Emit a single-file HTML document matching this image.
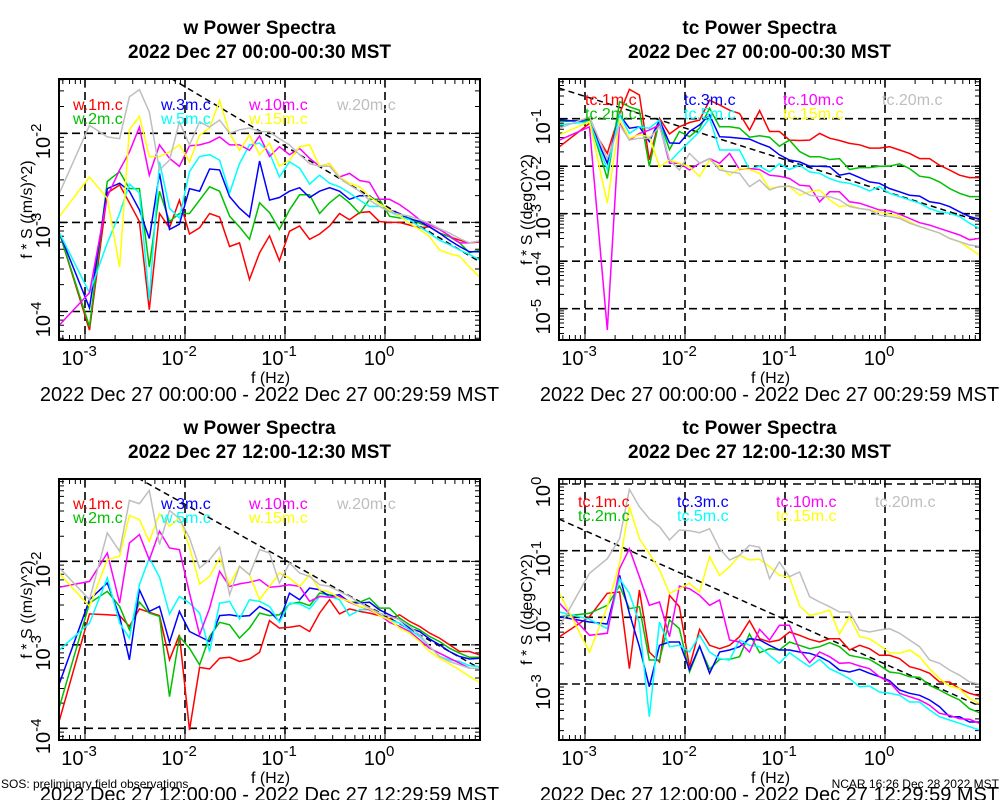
<!DOCTYPE html>
<html><head><meta charset="utf-8"><style>
html,body{margin:0;padding:0;background:#fff;}
svg{display:block;font-family:"Liberation Sans",sans-serif;}
</style></head><body>
<svg id="chart" width="1000" height="800" viewBox="0 0 1000 800" xmlns="http://www.w3.org/2000/svg">
<text x="1" y="788" font-size="12">SOS: preliminary field observations</text>
<text x="999" y="788" font-size="12" text-anchor="end">NCAR 16:26 Dec 28 2022 MST</text>
</svg>
<script>
// frequencies (Hz)
const freqs = [5.56e-4,1.11e-3,1.67e-3,2.22e-3,2.78e-3,3.5e-3,4.4e-3,5.56e-3,7.0e-3,8.8e-3,
 1.11e-2,1.40e-2,1.76e-2,2.22e-2,2.79e-2,3.51e-2,4.42e-2,5.57e-2,7.0e-2,8.8e-2,
 0.111,0.140,0.176,0.222,0.279,0.351,0.442,0.557,0.70,0.88,
 1.11,1.40,1.76,2.22,2.79,3.51,4.42,5.57,7.0,8.8];
const xTickLabels = ["-3","-2","-1","0"];
const seriesColors = ["#ff0000","#00c000","#0000ff","#00ffff","#ff00ff","#ffff00","#bebebe"];
const heights = ["1m","2m","3m","5m","10m","15m","20m"];
// log10(f*S) values, top-left (w, 00:00)
const wA1 = [-3.12,-4.21,-2.67,-2.58,-2.78,-2.99,-3.98,-2.90,-3.06,-2.75,-3.13,-3.06,-2.90,-2.94,-3.27,-3.23,-3.64,-3.34,-3.15,-3.43,-3.10,-3.04,-3.19,-3.13,-3.04,-2.90,-2.97,-2.89,-2.88,-2.99,-3.00,-3.00,-3.03,-3.06,-3.05,-3.12,-3.16,-3.20,-3.23,-3.22];
const wA2 = [-3.12,-4.17,-2.54,-2.43,-2.62,-2.62,-3.50,-2.65,-2.99,-2.90,-2.90,-2.75,-2.60,-2.65,-2.93,-3.05,-3.19,-2.78,-2.89,-3.08,-2.86,-2.69,-2.69,-2.90,-2.78,-2.69,-2.78,-2.90,-2.74,-2.74,-2.93,-2.95,-2.95,-3.01,-3.05,-3.12,-3.16,-3.23,-3.34,-3.31];
const wA3 = [-3.12,-3.96,-2.62,-2.56,-2.65,-2.86,-3.18,-2.45,-3.08,-3.02,-2.62,-2.65,-2.40,-2.41,-2.71,-2.84,-2.94,-2.31,-2.75,-2.72,-2.65,-2.61,-2.72,-2.65,-2.61,-2.65,-2.74,-2.70,-2.70,-2.79,-2.86,-2.90,-2.96,-2.99,-3.05,-3.12,-3.20,-3.27,-3.33,-3.33];
const wA5 = [-3.12,-3.79,-3.23,-2.90,-2.57,-2.67,-3.87,-2.32,-2.84,-2.95,-2.43,-2.26,-2.24,-2.30,-2.67,-2.34,-2.13,-2.11,-2.22,-2.49,-2.32,-2.39,-2.57,-2.47,-2.56,-2.60,-2.67,-2.75,-2.82,-2.82,-2.88,-2.93,-2.97,-3.05,-3.12,-3.20,-3.25,-3.31,-3.36,-3.42];
const wA10 = [-4.15,-3.79,-2.71,-2.41,-2.21,-1.93,-2.47,-2.13,-2.28,-2.37,-2.14,-2.13,-2.10,-2.04,-2.13,-2.13,-2.19,-2.03,-2.26,-2.15,-2.24,-2.17,-2.28,-2.37,-2.34,-2.49,-2.45,-2.53,-2.55,-2.74,-2.74,-2.80,-2.88,-2.97,-3.03,-3.08,-3.15,-3.23,-3.23,-3.21];
const wA15 = [-2.93,-2.49,-2.73,-3.50,-1.96,-1.81,-2.26,-2.26,-2.21,-2.13,-2.32,-2.02,-1.94,-1.63,-2.00,-2.19,-2.02,-2.24,-2.11,-2.37,-2.30,-2.15,-2.13,-2.37,-2.34,-2.49,-2.56,-2.60,-2.71,-2.79,-2.86,-2.93,-3.01,-3.08,-3.16,-3.31,-3.35,-3.38,-3.50,-3.61];
const wA20 = [-2.67,-1.91,-2.04,-2.06,-1.59,-1.51,-1.76,-2.41,-2.30,-1.87,-2.13,-1.87,-1.93,-1.85,-2.00,-1.96,-1.94,-1.98,-1.98,-2.06,-2.13,-2.24,-2.34,-2.37,-2.37,-2.50,-2.58,-2.65,-2.75,-2.82,-2.88,-2.91,-2.93,-2.97,-3.01,-3.07,-3.12,-3.18,-3.23,-3.21];
// top-right (tc, 00:00)
const tA1 = [-1.59,-1.10,-1.73,-0.89,-0.38,-0.50,-1.87,-0.99,-1.32,-1.17,-1.08,-1.03,-0.61,-0.71,-0.82,-0.89,-1.24,-0.83,-1.27,-1.27,-1.45,-1.46,-1.45,-1.31,-1.41,-1.46,-1.52,-1.55,-1.62,-1.62,-1.59,-1.66,-1.73,-1.84,-1.84,-1.98,-2.08,-2.19,-2.24,-2.24];
const tA2 = [-1.06,-1.03,-2.26,-0.64,-0.75,-0.82,-2.00,-1.03,-1.65,-1.27,-1.38,-1.20,-0.78,-1.17,-1.17,-1.20,-1.39,-1.36,-1.39,-1.58,-1.45,-1.69,-1.80,-1.80,-1.86,-1.84,-2.07,-2.03,-2.03,-2.00,-2.00,-1.95,-2.05,-2.21,-2.24,-2.33,-2.47,-2.57,-2.64,-2.64];
const tA3 = [-1.03,-1.06,-1.94,-0.92,-1.20,-1.17,-1.48,-1.03,-1.51,-1.52,-1.27,-1.13,-0.92,-1.38,-1.39,-1.41,-1.43,-1.52,-1.60,-1.76,-1.87,-1.91,-2.00,-2.00,-2.01,-2.19,-2.15,-2.24,-2.33,-2.36,-2.47,-2.54,-2.61,-2.63,-2.75,-2.78,-2.85,-2.96,-3.06,-3.12];
const tA5 = [-1.13,-1.06,-2.07,-0.92,-1.31,-1.17,-1.20,-1.03,-1.91,-1.69,-1.48,-1.27,-0.99,-1.66,-1.66,-1.66,-2.07,-2.00,-2.12,-1.95,-2.07,-1.98,-2.12,-2.15,-2.26,-2.33,-2.36,-2.43,-2.52,-2.43,-2.57,-2.64,-2.71,-2.78,-2.89,-2.96,-2.99,-3.06,-3.20,-3.31];
const tA10 = [-1.45,-1.17,-5.45,-1.06,-1.45,-1.31,-1.24,-1.13,-1.94,-1.94,-2.08,-1.94,-1.84,-1.94,-1.73,-2.07,-2.05,-2.07,-2.19,-2.21,-2.26,-2.40,-2.42,-2.75,-2.54,-2.54,-2.75,-2.78,-2.85,-2.92,-2.94,-3.01,-3.10,-3.19,-3.24,-3.31,-3.38,-3.45,-3.55,-3.52];
const tA15 = [-1.34,-1.06,-2.78,-1.03,-1.41,-1.34,-1.38,-2.01,-1.87,-1.94,-2.01,-2.22,-1.87,-2.01,-2.19,-2.05,-2.07,-2.15,-2.47,-2.43,-2.43,-2.61,-2.54,-2.50,-2.71,-2.85,-2.82,-2.89,-2.92,-2.96,-3.01,-3.06,-3.17,-3.27,-3.34,-3.41,-3.52,-3.59,-3.73,-3.87];
const tA20 = [-1.20,-0.96,-1.84,-1.13,-1.45,-1.41,-1.41,-1.17,-1.87,-2.08,-1.73,-1.94,-1.84,-2.08,-2.12,-2.15,-2.43,-2.29,-2.50,-2.43,-2.42,-2.50,-2.61,-2.64,-2.64,-2.71,-2.85,-2.89,-2.92,-3.03,-3.06,-3.10,-3.20,-3.27,-3.34,-3.41,-3.52,-3.59,-3.66,-3.69];
// bottom-left (w, 12:00)
const wB1 = [-3.90,-2.63,-2.64,-2.65,-2.78,-2.57,-2.61,-2.65,-3.18,-2.88,-4.02,-3.27,-3.29,-3.16,-3.15,-3.20,-3.17,-3.09,-2.71,-2.80,-2.79,-2.77,-2.84,-2.62,-2.46,-2.63,-2.57,-2.60,-2.62,-2.65,-2.69,-2.64,-2.72,-2.78,-2.86,-2.92,-3.00,-3.08,-3.08,-3.12];
const wB2 = [-3.74,-2.50,-2.36,-2.54,-2.82,-2.49,-2.62,-2.66,-3.62,-2.90,-3.04,-3.24,-2.90,-2.73,-2.76,-2.92,-2.80,-2.62,-2.65,-2.64,-2.51,-2.49,-2.53,-2.38,-2.40,-2.43,-2.49,-2.49,-2.44,-2.56,-2.56,-2.68,-2.76,-2.82,-2.90,-2.96,-3.04,-3.10,-3.15,-3.15];
const wB3 = [-3.46,-2.46,-2.26,-2.66,-3.18,-2.34,-2.60,-2.54,-2.97,-2.60,-2.84,-2.90,-2.96,-2.65,-2.64,-2.66,-2.65,-2.54,-2.60,-2.72,-2.38,-2.46,-2.32,-2.34,-2.42,-2.40,-2.49,-2.50,-2.49,-2.58,-2.64,-2.70,-2.80,-2.84,-2.93,-3.00,-3.08,-3.14,-3.17,-3.16];
const wB5 = [-3.06,-2.74,-2.20,-2.74,-2.92,-2.28,-1.96,-2.19,-2.63,-2.42,-2.50,-2.62,-3.08,-2.50,-2.48,-2.69,-2.46,-2.48,-2.54,-2.73,-2.50,-2.51,-2.57,-2.42,-2.42,-2.46,-2.65,-2.58,-2.58,-2.64,-2.70,-2.74,-2.82,-2.90,-3.02,-3.14,-3.18,-3.20,-3.25,-3.26];
const wB10 = [-2.31,-2.24,-1.90,-2.50,-1.78,-1.68,-1.98,-1.64,-1.84,-1.86,-2.38,-2.88,-2.56,-2.12,-2.30,-2.27,-2.25,-2.22,-2.31,-2.30,-2.28,-2.30,-2.48,-2.42,-2.43,-2.42,-2.49,-2.54,-2.58,-2.64,-2.73,-2.78,-2.84,-2.94,-3.04,-3.10,-3.16,-3.22,-3.28,-3.28];
const wB15 = [-2.15,-2.54,-1.98,-1.94,-1.45,-1.50,-1.76,-1.43,-1.58,-1.48,-1.83,-2.27,-2.18,-1.96,-2.28,-2.06,-2.16,-2.46,-2.30,-2.14,-2.20,-2.30,-2.16,-2.34,-2.37,-2.44,-2.48,-2.54,-2.57,-2.65,-2.70,-2.80,-2.86,-2.96,-3.08,-3.16,-3.23,-3.30,-3.38,-3.45];
const wB20 = [-2.08,-2.46,-1.66,-1.88,-1.27,-1.31,-1.15,-1.80,-1.39,-1.49,-1.72,-2.08,-1.98,-1.83,-2.40,-2.06,-2.16,-1.86,-1.90,-2.26,-2.02,-2.14,-2.18,-2.28,-2.30,-2.36,-2.42,-2.50,-2.56,-2.62,-2.66,-2.70,-2.78,-2.88,-3.02,-3.14,-3.20,-3.24,-3.28,-3.28];
// bottom-right (tc, 12:00)
const tB1 = [-2.29,-1.99,-1.64,-1.62,-2.77,-1.59,-2.52,-2.67,-1.67,-1.84,-2.74,-2.18,-2.42,-2.47,-2.42,-2.29,-2.05,-2.32,-2.37,-2.34,-2.22,-2.27,-2.33,-2.37,-2.32,-2.32,-2.49,-2.42,-2.47,-2.57,-2.57,-2.62,-2.74,-2.78,-2.84,-2.97,-2.97,-3.07,-3.14,-3.18];
const tB2 = [-1.99,-1.94,-1.82,-1.53,-1.87,-1.84,-2.64,-2.64,-2.04,-2.17,-2.82,-2.44,-2.78,-2.63,-2.63,-2.59,-2.25,-2.53,-2.47,-2.49,-2.37,-2.42,-2.47,-2.44,-2.38,-2.44,-2.57,-2.60,-2.63,-2.72,-2.82,-2.84,-2.89,-2.90,-3.02,-3.09,-3.17,-3.24,-3.37,-3.43];
const tB3 = [-1.99,-2.07,-2.10,-1.37,-1.94,-2.44,-3.04,-2.42,-2.37,-2.37,-2.79,-2.43,-2.84,-2.52,-2.49,-2.44,-2.32,-2.34,-2.42,-2.49,-2.49,-2.52,-2.54,-2.59,-2.67,-2.79,-2.82,-2.78,-2.84,-2.89,-2.95,-3.09,-3.14,-3.17,-3.24,-3.34,-3.49,-3.49,-3.57,-3.57];
const tB5 = [-1.92,-2.03,-2.17,-1.42,-1.64,-2.09,-3.49,-2.07,-2.44,-2.42,-2.52,-2.27,-2.52,-2.62,-2.64,-2.34,-2.42,-2.44,-2.57,-2.69,-2.53,-2.64,-2.74,-2.63,-2.77,-2.84,-2.92,-3.04,-3.03,-3.12,-3.14,-3.17,-3.27,-3.27,-3.39,-3.49,-3.54,-3.59,-3.64,-3.69];
const tB10 = [-1.79,-2.27,-2.24,-1.27,-0.97,-1.39,-1.82,-1.77,-2.29,-1.53,-1.57,-1.67,-1.82,-1.74,-2.34,-2.37,-2.52,-2.18,-2.34,-2.12,-2.12,-2.49,-2.68,-2.52,-2.59,-2.69,-2.68,-2.73,-2.77,-2.89,-2.97,-3.14,-3.19,-3.24,-3.32,-3.44,-3.47,-3.52,-3.53,-3.59];
const tB15 = [-1.64,-2.52,-1.84,-1.19,-0.34,-0.82,-1.04,-1.29,-1.64,-1.57,-1.49,-1.62,-1.09,-1.37,-1.24,-1.07,-1.14,-1.13,-1.24,-1.37,-1.40,-1.83,-1.97,-1.94,-1.89,-2.25,-1.99,-2.29,-2.32,-2.42,-2.53,-2.54,-2.49,-2.59,-2.77,-2.92,-3.03,-3.07,-3.22,-3.29];
const tB20 = [-2.14,-1.34,-1.12,-0.82,-0.08,-0.34,-0.52,-0.64,-0.84,-0.69,-0.70,-0.73,-0.67,-0.97,-1.14,-1.07,-0.92,-0.95,-1.42,-1.17,-1.39,-1.32,-1.69,-1.77,-1.84,-1.92,-1.92,-2.19,-2.22,-2.19,-2.17,-2.24,-2.34,-2.44,-2.64,-2.69,-2.79,-2.87,-2.97,-3.00];
// reference lines: log10 value at f=1 Hz and slope
const refIntercepts = [-2.81,-2.53,-2.65,-2.70];
const refSlope = -0.6667;

const NS="http://www.w3.org/2000/svg";
const svg=document.getElementById('chart');
function mk(tag,attrs,parent){const e=document.createElementNS(NS,tag);for(const k in attrs)e.setAttribute(k,attrs[k]);(parent||svg).appendChild(e);return e;}

const panels=[
 {id:'w-00',x0:59,x1:480,y0:79,y1:340,ymin:-4.32,ymax:-1.39,var:'w',title:'w Power Spectra',sub:'2022 Dec 27 00:00-00:30 MST',range:'2022 Dec 27 00:00:00 - 2022 Dec 27 00:29:59 MST',ylab:'f * S ((m/s)^2)',series:[wA1,wA2,wA3,wA5,wA10,wA15,wA20],ref:0,legX:73,legY:110,colStep:88},
 {id:'tc-00',x0:559,x1:980,y0:79,y1:340,ymin:-5.66,ymax:-0.164,var:'tc',title:'tc Power Spectra',sub:'2022 Dec 27 00:00-00:30 MST',range:'2022 Dec 27 00:00:00 - 2022 Dec 27 00:29:59 MST',ylab:'f * S ((degC)^2)',series:[tA1,tA2,tA3,tA5,tA10,tA15,tA20],ref:1,legX:585,legY:105,colStep:99},
 {id:'w-12',x0:59,x1:480,y0:479,y1:740,ymin:-4.14,ymax:-1.014,var:'w',title:'w Power Spectra',sub:'2022 Dec 27 12:00-12:30 MST',range:'2022 Dec 27 12:00:00 - 2022 Dec 27 12:29:59 MST',ylab:'f * S ((m/s)^2)',series:[wB1,wB2,wB3,wB5,wB10,wB15,wB20],ref:2,legX:73,legY:509,colStep:88},
 {id:'tc-12',x0:559,x1:980,y0:479,y1:740,ymin:-3.84,ymax:0.075,var:'tc',title:'tc Power Spectra',sub:'2022 Dec 27 12:00-12:30 MST',range:'2022 Dec 27 12:00:00 - 2022 Dec 27 12:29:59 MST',ylab:'f * S ((degC)^2)',series:[tB1,tB2,tB3,tB5,tB10,tB15,tB20],ref:3,legX:578,legY:507,colStep:99}
];
const LXMIN=-3.26,LXMAX=0.95;
const legendOrder=[[0,0],[1,1],[2,0],[3,1],[4,0],[5,1],[6,0]]; // [seriesIdx,row]
const legendCol=[0,0,1,1,2,2,3];

panels.forEach((p,pi)=>{
 const g=mk('g',{});
 
 
 const xs=lf=>p.x0+(lf-LXMIN)/(LXMAX-LXMIN)*(p.x1-p.x0);
 const ys=lv=>p.y1-(lv-p.ymin)/(p.ymax-p.ymin)*(p.y1-p.y0);
 const cx=(p.x0+p.x1)/2-10;
 let t=mk('text',{x:cx,y:p.y0-45,'font-size':19,'font-weight':'bold','text-anchor':'middle'},g);t.textContent=p.title;
 
 t=mk('text',{x:cx,y:p.y0-21,'font-size':19,'font-weight':'bold','text-anchor':'middle'},g);t.textContent=p.sub;
 
 const clipId='clip'+pi;
 const cp=mk('clipPath',{id:clipId},g);mk('rect',{x:p.x0,y:p.y0,width:p.x1-p.x0,height:p.y1-p.y0},cp);
 for(let d=-3;d<=0;d++){const x=xs(d);const l=mk('line',{x1:x,x2:x,y1:p.y0,y2:p.y1,stroke:'#000','stroke-width':1.6,'stroke-dasharray':'8,5'},g);
  }
 for(let d=Math.ceil(p.ymin);d<=Math.floor(p.ymax);d++){const y=ys(d);const l=mk('line',{x1:p.x0,x2:p.x1,y1:y,y2:y,stroke:'#000','stroke-width':1.6,'stroke-dasharray':'8,5'},g);
  }
 let tk='';
 for(let d=-4;d<=1;d++)for(let m=1;m<=9;m++){const lf=d+Math.log10(m);if(lf<LXMIN||lf>LXMAX)continue;const x=xs(lf);const L=m===1?9:5;tk+=`M${x},${p.y0}v${L}M${x},${p.y1}v${-L}`;}
 for(let d=Math.floor(p.ymin);d<=Math.ceil(p.ymax);d++)for(let m=1;m<=9;m++){const lv=d+Math.log10(m);if(lv<p.ymin||lv>p.ymax)continue;const y=ys(lv);const L=m===1?9:5;tk+=`M${p.x0},${y}h${L}M${p.x1},${y}h${-L}`;}
 const tp=mk('path',{d:tk,stroke:'#000','stroke-width':1,fill:'none'},g);
 
 const a=LXMIN,b=LXMAX;
 const rl=mk('line',{x1:xs(a),y1:ys(refIntercepts[p.ref]+refSlope*a),x2:xs(b),y2:ys(refIntercepts[p.ref]+refSlope*b),stroke:'#000','stroke-width':1.5,'stroke-dasharray':'6,4','clip-path':`url(#${clipId})`},g);
 
 p.series.forEach((vals,si)=>{
  const pts=vals.map((v,i)=>xs(Math.log10(freqs[i])).toFixed(1)+','+ys(v).toFixed(1)).join(' ');
  const pl=mk('polyline',{points:pts,fill:'none',stroke:seriesColors[si],'stroke-width':1.5,'stroke-linejoin':'miter','clip-path':`url(#${clipId})`},g);
  
  
 });
 legendOrder.forEach(([si,row])=>{
  const lt=mk('text',{x:p.legX+legendCol[si]*p.colStep,y:p.legY+row*14,'font-size':16,fill:seriesColors[si]},g);
  lt.textContent=p.var+'.'+heights[si]+'.c';
  
  
 });
 const bx=mk('rect',{x:p.x0,y:p.y0,width:p.x1-p.x0,height:p.y1-p.y0,fill:'none',stroke:'#000','stroke-width':2},g);
 
 xTickLabels.forEach((e,i)=>{
  const lt=mk('text',{x:xs(-3+i)-6,y:p.y1+25,'font-size':20,'text-anchor':'middle'},g);
  lt.innerHTML='10<tspan dy="-9" font-size="15">'+e+'</tspan>';
  
 });
 for(let d=Math.ceil(p.ymin);d<=Math.floor(p.ymax);d++){
  const y=ys(d);
  const lt=mk('text',{transform:`translate(50,${y+8}) rotate(-90)`,'font-size':20,'text-anchor':'middle'},g);
  lt.innerHTML='10<tspan dy="-9" font-size="15">'+(d===0?'0':String(d))+'</tspan>';
  if(p.x0>500)lt.setAttribute('transform',`translate(550,${y+8}) rotate(-90)`);
  
 }
 let xt=mk('text',{x:(p.x0+p.x1)/2+1,y:p.y1+43,'font-size':16,'text-anchor':'middle'},g);xt.textContent='f (Hz)';
 
 let yt=mk('text',{transform:`translate(${p.x0-27},${(p.y0+p.y1)/2}) rotate(-90)`,'font-size':16,'text-anchor':'middle'},g);yt.textContent=p.ylab;
 
 let rt=mk('text',{x:(p.x0+p.x1)/2,y:p.y1+61,'font-size':20,'text-anchor':'middle'},g);rt.textContent=p.range;
 
});
</script>
</body></html>
